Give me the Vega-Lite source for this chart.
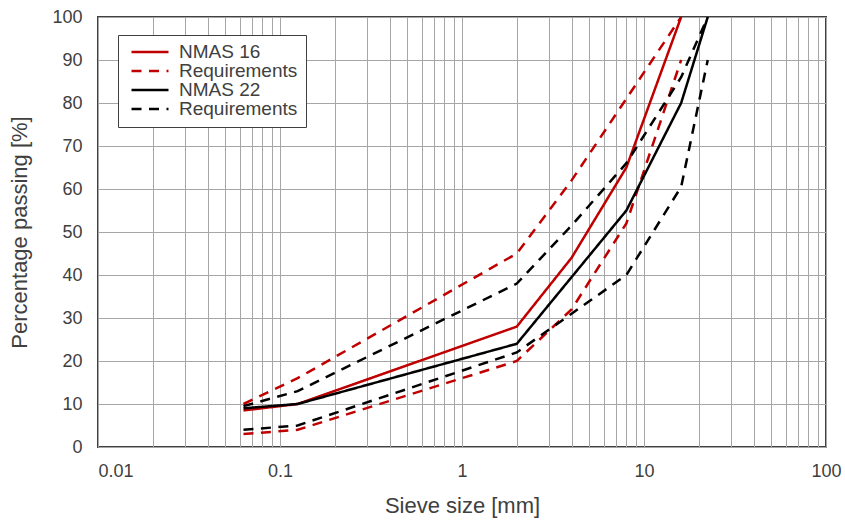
{
  "$schema": "https://vega.github.io/schema/vega-lite/v6.json",
  "width": 728,
  "height": 430,
  "autosize": {"type": "none"},
  "padding": {"left": 98, "top": 17, "right": 19, "bottom": 73},
  "background": "white",
  "config": {
    "font": "Liberation Sans",
    "view": {"stroke": "#404040", "strokeWidth": 2},
    "axis": {
      "labelFont": "Liberation Sans", "labelFontSize": 18, "labelColor": "#404040",
      "titleFont": "Liberation Sans", "titleFontSize": 22, "titleFontWeight": "normal", "titleColor": "#404040",
      "domain": false, "ticks": false,
      "gridColor": "#a6a6a6", "gridWidth": 1, "gridOpacity": 1
    },
    "legend": {
      "labelFont": "Liberation Sans", "labelFontSize": 19, "labelColor": "#404040",
      "symbolType": "stroke", "symbolSize": 1369, "symbolStrokeWidth": 2.5, "symbolOffset": 4,
      "clipHeight": 18, "rowPadding": 0, "labelOffset": 9,
      "padding": 8, "fillColor": "white", "strokeColor": "#404040",
      "titleFontSize": 0
    }
  },
  "data": {
    "values": [
      {"series": "NMAS 16", "part": "main", "size": 0.063, "pass": 8.5},
      {"series": "NMAS 16", "part": "main", "size": 0.125, "pass": 10},
      {"series": "NMAS 16", "part": "main", "size": 2, "pass": 28},
      {"series": "NMAS 16", "part": "main", "size": 4, "pass": 44},
      {"series": "NMAS 16", "part": "main", "size": 8, "pass": 65},
      {"series": "NMAS 16", "part": "main", "size": 16, "pass": 100},
      {"series": "Req 16", "part": "upper", "size": 0.063, "pass": 10},
      {"series": "Req 16", "part": "upper", "size": 0.125, "pass": 16},
      {"series": "Req 16", "part": "upper", "size": 2, "pass": 45},
      {"series": "Req 16", "part": "upper", "size": 4, "pass": 62},
      {"series": "Req 16", "part": "upper", "size": 8, "pass": 81},
      {"series": "Req 16", "part": "upper", "size": 16, "pass": 100},
      {"series": "Req 16", "part": "lower", "size": 0.063, "pass": 3},
      {"series": "Req 16", "part": "lower", "size": 0.125, "pass": 4},
      {"series": "Req 16", "part": "lower", "size": 2, "pass": 20},
      {"series": "Req 16", "part": "lower", "size": 4, "pass": 32},
      {"series": "Req 16", "part": "lower", "size": 8, "pass": 52},
      {"series": "Req 16", "part": "lower", "size": 16, "pass": 90},
      {"series": "NMAS 22", "part": "main", "size": 0.063, "pass": 9},
      {"series": "NMAS 22", "part": "main", "size": 0.125, "pass": 10},
      {"series": "NMAS 22", "part": "main", "size": 2, "pass": 24},
      {"series": "NMAS 22", "part": "main", "size": 4, "pass": 39.5},
      {"series": "NMAS 22", "part": "main", "size": 8, "pass": 55},
      {"series": "NMAS 22", "part": "main", "size": 16, "pass": 80},
      {"series": "NMAS 22", "part": "main", "size": 22.4, "pass": 100},
      {"series": "Req 22", "part": "upper", "size": 0.063, "pass": 9.5},
      {"series": "Req 22", "part": "upper", "size": 0.125, "pass": 13},
      {"series": "Req 22", "part": "upper", "size": 2, "pass": 38},
      {"series": "Req 22", "part": "upper", "size": 4, "pass": 51.5},
      {"series": "Req 22", "part": "upper", "size": 8, "pass": 66},
      {"series": "Req 22", "part": "upper", "size": 16, "pass": 86},
      {"series": "Req 22", "part": "upper", "size": 22.4, "pass": 100},
      {"series": "Req 22", "part": "lower", "size": 0.063, "pass": 4},
      {"series": "Req 22", "part": "lower", "size": 0.125, "pass": 5},
      {"series": "Req 22", "part": "lower", "size": 2, "pass": 22},
      {"series": "Req 22", "part": "lower", "size": 4, "pass": 31},
      {"series": "Req 22", "part": "lower", "size": 8, "pass": 40},
      {"series": "Req 22", "part": "lower", "size": 16, "pass": 60.5},
      {"series": "Req 22", "part": "lower", "size": 22.4, "pass": 90}
    ]
  },
  "mark": {"type": "line", "strokeWidth": 2.5, "clip": true},
  "encoding": {
    "x": {
      "field": "size", "type": "quantitative",
      "scale": {"type": "log", "domain": [0.01, 100]},
      "axis": {
        "title": "Sieve size [mm]",
        "values": [0.01, 0.02, 0.03, 0.04, 0.05, 0.06, 0.07, 0.08, 0.09, 0.1, 0.2, 0.3, 0.4, 0.5, 0.6, 0.7, 0.8, 0.9, 1, 2, 3, 4, 5, 6, 7, 8, 9, 10, 20, 30, 40, 50, 60, 70, 80, 90, 100],
        "labelExpr": "indexof([0.01, 0.1, 1, 10, 100], datum.value) >= 0 ? format(datum.value, '~g') : ''",
        "labelOverlap": false,
        "labelBound": false,
        "labelFlush": false,
        "labelAlign": {"condition": {"test": "datum.value <= 0.011", "value": "left"}, "value": "center"},
        "labelPadding": 15,
        "titlePadding": 15
      }
    },
    "y": {
      "field": "pass", "type": "quantitative",
      "scale": {"domain": [0, 100]},
      "axis": {
        "title": "Percentage passing [%]",
        "values": [0, 10, 20, 30, 40, 50, 60, 70, 80, 90, 100],
        "labelPadding": 16,
        "titlePadding": 20
      }
    },
    "color": {
      "field": "series", "type": "nominal",
      "scale": {"domain": ["NMAS 16", "Req 16", "NMAS 22", "Req 22"], "range": ["#c00000", "#c00000", "#000000", "#000000"]},
      "legend": {
        "title": null, "orient": "none", "legendX": 20, "legendY": 18,
        "labelExpr": "indexof(datum.label, 'Req') == 0 ? 'Requirements ' : datum.label"
      }
    },
    "strokeDash": {
      "field": "series", "type": "nominal",
      "scale": {"domain": ["NMAS 16", "Req 16", "NMAS 22", "Req 22"], "range": [[1, 0], [10, 7.5], [1, 0], [10, 7.5]]},
      "legend": {
        "title": null, "orient": "none", "legendX": 20, "legendY": 18,
        "labelExpr": "indexof(datum.label, 'Req') == 0 ? 'Requirements ' : datum.label"
      }
    },
    "detail": {"field": "part"}
  }
}
